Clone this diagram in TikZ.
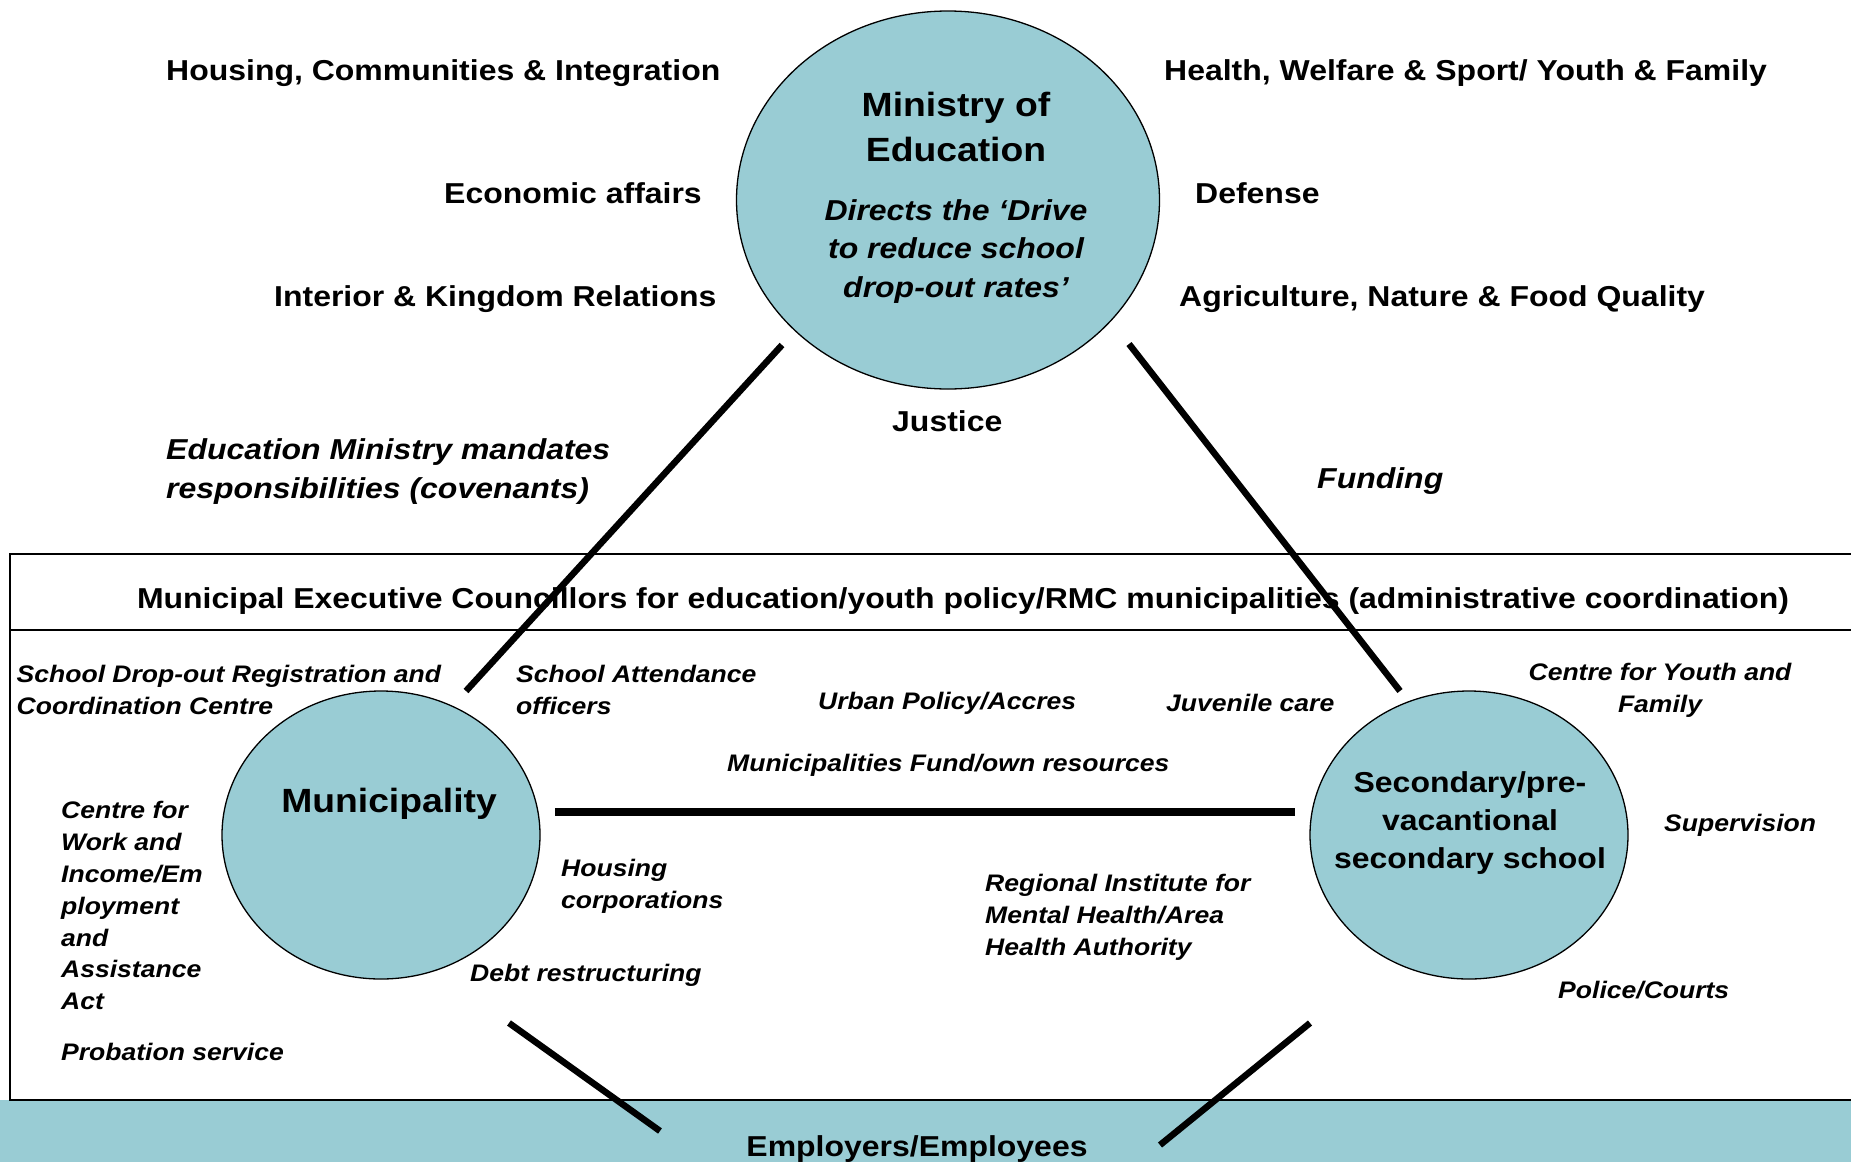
\documentclass[tikz,border=0pt]{standalone}
\usepackage{fontspec}
\setmainfont{Liberation Sans}[FakeStretch=1.11]
\usetikzlibrary{shapes.geometric}
\definecolor{tealfill}{RGB}{153,204,212}
\begin{document}
\begin{tikzpicture}[x=1pt,y=-1pt,
  lbl/.style={font=\bfseries\fontsize{28.8}{38.4}\selectfont, inner sep=0pt, yshift=-2.5pt},
  ttl/.style={font=\bfseries\fontsize{33.6}{45}\selectfont, inner sep=0pt, align=center},
  ilbl/.style={font=\bfseries\itshape\fontsize{28.8}{38.6}\selectfont, inner sep=0pt, align=left, yshift=-3pt},
  sm/.style={font=\bfseries\itshape\fontsize{23.9}{31.8}\selectfont, inner sep=0pt, align=left, yshift=-1.2pt},
  orgell/.style={ellipse, draw=black, line width=1.3pt, fill=tealfill, inner sep=0pt},
  link/.style={line width=6.5pt}
]
\useasboundingbox (0,0) rectangle (1851,1162);
\clip (0,0) rectangle (1851,1162);

% bottom band and municipal box
\fill[tealfill] (0,1100) rectangle (1851,1162);
\draw[line width=1.6pt] (10,554) rectangle (1870,1100);
\draw[line width=1.6pt] (10,630) -- (1870,630);

% ministry
\node[orgell, minimum width=423, minimum height=378] (min) at (948,200) {};
\node[ttl] (mintitle) at (956,126.5) {Ministry of\\Education};
\node[ilbl, align=center] (drive) at (956,248.5) {Directs the ‘Drive\\to reduce school\\drop-out rates’};

% ministries around
\node[lbl, anchor=west] (hci) at (166,71) {Housing, Communities \& Integration};
\node[lbl, anchor=west] (eco) at (444,191) {Economic affairs};
\node[lbl, anchor=west] (ikr) at (274,297) {Interior \& Kingdom Relations};
\node[lbl, anchor=west] (hws) at (1164,71) {Health, Welfare \& Sport/ Youth \& Family};
\node[lbl, anchor=west] (def) at (1195,191) {Defense};
\node[lbl, anchor=west] (anf) at (1179,297) {Agriculture, Nature \& Food Quality};
\node[lbl, anchor=west] (jus) at (892,419) {Justice};
\node[ilbl, anchor=west] (emm) at (166,468.5) {Education Ministry mandates\\responsibilities (covenants)};
\node[ilbl, anchor=west] (fund) at (1317,478) {Funding};

% header
\node[lbl] (hdr) at (963,599) {Municipal Executive Councillors for education/youth policy/RMC municipalities (administrative coordination)};

% municipality
\node[orgell, minimum width=318, minimum height=288] (mun) at (381,835) {};
\node[ttl, yshift=-3.5pt] (muntitle) at (389,800) {Municipality};

% secondary school
\node[orgell, minimum width=318, minimum height=288] (sec) at (1469,835) {};
\node[lbl, align=center, yshift=-1pt] (sectitle) at (1470,819.5) {Secondary/pre-\\vacantional\\secondary school};

% small italic labels
\node[sm, anchor=west] (sdr) at (16.5,689) {School Drop-out Registration and\\Coordination Centre};
\node[sm, anchor=west] (sao) at (516,689) {School Attendance\\officers};
\node[sm, anchor=west] (urb) at (818,702) {Urban Policy/Accres};
\node[sm, anchor=west] (juv) at (1166,702) {Juvenile care};
\node[sm, align=center] (cyf) at (1660,689) {Centre for Youth and\\Family};
\node[sm, anchor=west] (mfo) at (727,764) {Municipalities Fund/own resources};
\node[sm, anchor=west] (cwi) at (61,904.5) {Centre for\\Work and\\Income/Em\\ployment\\and\\Assistance\\Act};
\node[sm, anchor=west] (prob) at (61,1051) {Probation service};
\node[sm, anchor=west] (hcorp) at (561,885) {Housing\\corporations};
\node[sm, anchor=west] (debt) at (470,974) {Debt restructuring};
\node[sm, anchor=west] (rim) at (985,916) {Regional Institute for\\Mental Health/Area\\Health Authority};
\node[sm, anchor=west] (sup) at (1664,824) {Supervision};
\node[sm, anchor=west] (pol) at (1558,989) {Police/Courts};

% employers band text
\node[lbl, anchor=base, yshift=2.5pt] (emp) at (917,1156) {Employers/Employees};

% connector ends
\coordinate (a1) at (782,345);
\coordinate (a2) at (466,691);
\coordinate (b1) at (1129,344);
\coordinate (b2) at (1400,691);
\coordinate (c1) at (555,812);
\coordinate (c2) at (1295,812);
\coordinate (d1) at (509,1023);
\coordinate (d2) at (660,1131);
\coordinate (e1) at (1310,1023);
\coordinate (e2) at (1160,1145);

\draw[link] (a1) -- (a2);
\draw[link] (b1) -- (b2);
\draw[link, line width=7.5pt] (c1) -- (c2);
\draw[link] (d1) -- (d2);
\draw[link] (e1) -- (e2);
\end{tikzpicture}
\end{document}
